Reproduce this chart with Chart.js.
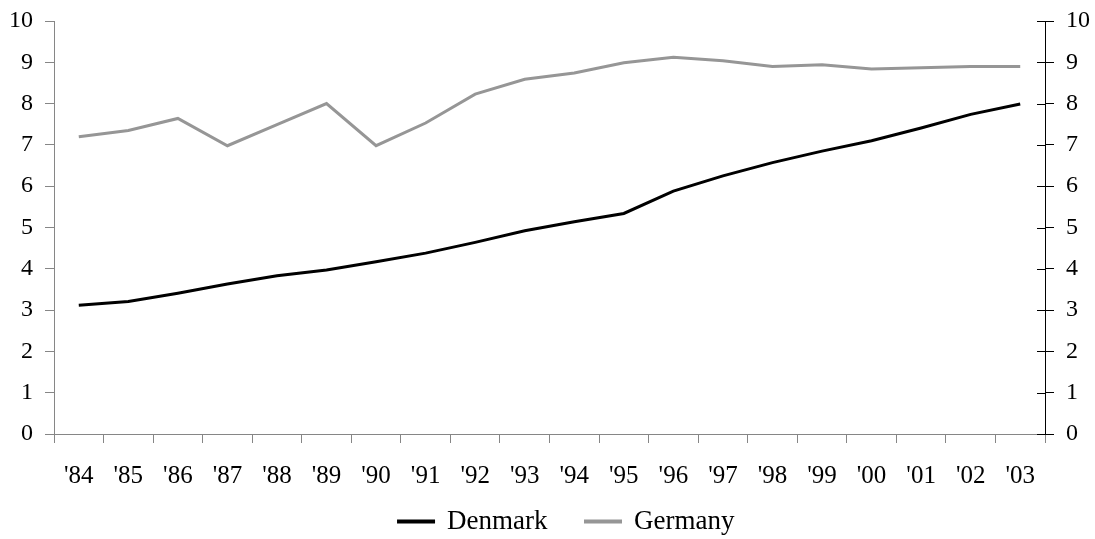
<!DOCTYPE html>
<html>
<head>
<meta charset="utf-8">
<script src="https://cdn.jsdelivr.net/npm/chart.js@4/dist/chart.umd.min.js"></script>
<style>
    body { margin: 0; background: #ffffff; }
    #wrap { width: 1095px; height: 539px; }
</style>
</head>
<body>
<div id="wrap"><canvas id="line_chart" width="1095" height="539"></canvas></div>
<script>
var years = ["'84", "'85", "'86", "'87", "'88", "'89", "'90", "'91", "'92", "'93",
    "'94", "'95", "'96", "'97", "'98", "'99", "'00", "'01", "'02", "'03"];
var denmark = [3.12, 3.21, 3.41, 3.63, 3.83, 3.97, 4.17, 4.38, 4.64, 4.92,
    5.14, 5.34, 5.88, 6.25, 6.57, 6.85, 7.10, 7.41, 7.74, 7.99];
var germany = [7.20, 7.35, 7.64, 6.98, 7.49, 8.0, 6.98, 7.53, 8.23, 8.59,
    8.74, 8.99, 9.12, 9.04, 8.90, 8.94, 8.84, 8.87, 8.90, 8.90];
var yTicks = [0, 1, 2, 3, 4, 5, 6, 7, 8, 9, 10];

var serif = "'Liberation Serif', 'Times New Roman', serif";
var axisGrey = '#868686';

// short inward ticks on the right axis, so they cross the axis line
var crossTicks = {
    id: 'crossTicks',
    afterDraw: function (chart) {
        var sc = chart.scales.y1;
        var ctx = chart.ctx;
        ctx.save();
        ctx.strokeStyle = '#000000';
        ctx.lineWidth = 1;
        yTicks.forEach(function (v) {
            var py = Math.round(sc.getPixelForValue(v)) + 0.5;
            ctx.beginPath();
            ctx.moveTo(sc.left - 8, py);
            ctx.lineTo(sc.left, py);
            ctx.stroke();
        });
        ctx.restore();
    }
};

// legend keeps its wide item gap but sits closer under the year labels
var liftLegend = {
    id: 'liftLegend',
    afterLayout: function (chart) {
        chart.legend.top -= 20;
        chart.legend.bottom -= 20;
        chart.legend.left += 19;
        chart.legend.right += 19;
    }
};

// fixed axis sizes, so the plot box sits where the original one does
function fixY(w) {
    return function (scale) {
        scale.width = w;
        scale.paddingTop = 0;
        scale.paddingBottom = 0;
    };
}

new Chart(document.getElementById("line_chart").getContext("2d"), {
    type: 'line',
    data: {
        labels: years,
        datasets: [{
            label: "Denmark",
            data: denmark,
            borderColor: '#000000',
            backgroundColor: '#000000',
            borderWidth: 3,
            pointRadius: 0,
            tension: 0,
            yAxisID: 'y'
        }, {
            label: "Germany",
            data: germany,
            borderColor: '#969696',
            backgroundColor: '#969696',
            borderWidth: 3,
            pointRadius: 0,
            tension: 0,
            yAxisID: 'y'
        }]
    },
    options: {
        responsive: false,
        animation: false,
        layout: { padding: { left: 0, right: 0, top: 21, bottom: -26 } },
        plugins: {
            tooltip: { enabled: false },
            legend: {
                position: 'bottom',
                labels: {
                    font: { family: serif, size: 27 },
                    color: '#000000',
                    boxWidth: 35,
                    boxHeight: 1,
                    padding: 38
                }
            }
        },
        scales: {
            x: {
                offset: true,
                grid: { offset: true, drawOnChartArea: false, tickLength: 9, color: axisGrey },
                border: { color: axisGrey },
                ticks: { font: { family: serif, size: 25 }, color: '#000000', padding: 18, maxRotation: 0, autoSkip: false },
                afterFit: function (scale) {
                    scale.height = 56;
                    scale.paddingLeft = 0;
                    scale.paddingRight = 0;
                }
            },
            y: {
                min: 0, max: 10,
                grid: { drawOnChartArea: false, tickLength: 9, color: axisGrey },
                border: { color: axisGrey },
                ticks: { stepSize: 1, font: { family: serif, size: 24 }, color: '#000000', padding: 12 },
                afterFit: fixY(54)
            },
            y1: {
                position: 'right',
                min: 0, max: 10,
                grid: { drawOnChartArea: false, tickLength: 9, color: '#000000' },
                border: { color: '#000000' },
                ticks: { stepSize: 1, font: { family: serif, size: 24 }, color: '#000000', padding: 12 },
                afterFit: fixY(50)
            }
        }
    },
    plugins: [crossTicks, liftLegend]
});
</script>
</body>
</html>
